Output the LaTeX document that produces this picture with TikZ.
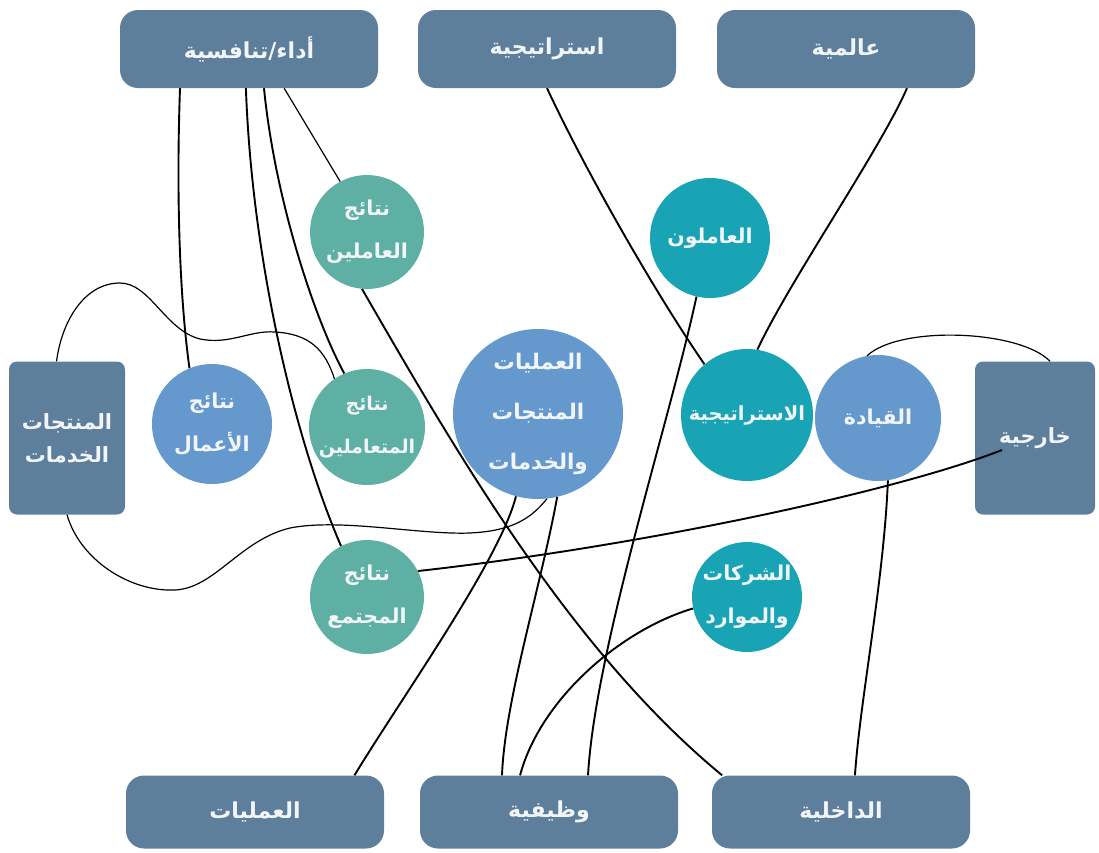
\documentclass[tikz,border=0pt]{standalone}
\usepackage{fontspec}
\newfontfamily\arabicfont[Script=Arabic]{DejaVu Sans}
\TeXXeTstate=1
\usetikzlibrary{calc}
\newcommand{\artxt}[1]{\beginR #1\endR}
\definecolor{boxc}{HTML}{5D7F9B}
\definecolor{tealc}{HTML}{5FB0A4}
\definecolor{cyanc}{HTML}{18A4B4}
\definecolor{bluec}{HTML}{6598CC}
\definecolor{txtc}{HTML}{F2F5F8}
\tikzset{
  lbl/.style={text=txtc, align=center, inner sep=0pt},
  hbox/.style={lbl, fill=boxc, rounded corners=18pt, minimum width=258pt, minimum height=78pt,
    font=\arabicfont\bfseries\fontsize{22}{26}\selectfont},
  vbox/.style={lbl, fill=boxc, rounded corners=8pt, minimum width=116pt, minimum height=153pt,
    font=\arabicfont\bfseries\fontsize{21}{33}\selectfont},
  circ/.style={lbl, circle, minimum size=#1, font=\arabicfont\bfseries\fontsize{20.5}{43}\selectfont},
  bigcirc/.style={lbl, circle, minimum size=#1, font=\arabicfont\bfseries\fontsize{21.5}{50}\selectfont},
  link/.style={draw=black, line width=1.9pt},
  thin link/.style={draw=black, line width=1.2pt},
}
\begin{document}
\begin{tikzpicture}[x=1pt,y=-1pt]
\useasboundingbox (0,0) rectangle (1099,852);
% boxes
\node[hbox] (P) at (249,49) {\artxt{أداء/تنافسية}};
\node[hbox] (S) at (547,49) {\artxt{استراتيجية}};
\node[hbox] (G) at (846,49) {\artxt{عالمية}};
\node[hbox, minimum height=73pt] (O) at (255,812) {\artxt{العمليات}};
\node[hbox, minimum height=73pt] (W) at (549,812) {\artxt{وظيفية}};
\node[hbox, minimum height=73pt] (D) at (841,812) {\artxt{الداخلية}};
\node[vbox] (L) at (67,438) {\artxt{المنتجات}\\\artxt{الخدمات}};
\node[vbox, minimum width=120pt] (R) at (1035,438) {\artxt{خارجية}};
% circles
\node[circ=114pt, fill=tealc] (cE) at (367,232) {\artxt{نتائج}\\\artxt{العاملين}};
\node[circ=120pt, fill=cyanc] (cW) at (710,238) {\artxt{العاملون}};
\node[circ=120pt, fill=bluec] (cB) at (212,424) {\artxt{نتائج}\\\artxt{الأعمال}};
\node[circ=116pt, fill=tealc, font=\arabicfont\bfseries\fontsize{19}{43}\selectfont] (cC) at (367,427) {\artxt{نتائج}\\\artxt{المتعاملين}};
\node[bigcirc=170pt, fill=bluec] (cO) at (538,414) {\artxt{العمليات}\\\artxt{المنتجات}\\\artxt{والخدمات}};
\node[circ=132pt, fill=cyanc, font=\arabicfont\bfseries\fontsize{19.5}{43}\selectfont] (cS) at (747,415) {\artxt{الاستراتيجية}};
\node[circ=126pt, fill=bluec] (cL) at (878,418) {\artxt{القيادة}};
\node[circ=114pt, fill=tealc] (cM) at (367,597) {\artxt{نتائج}\\\artxt{المجتمع}};
\node[circ=110pt, fill=cyanc] (cP) at (747,597) {\artxt{الشركات}\\\artxt{والموارد}};
% connectors from top-left box
\draw[link] ($(P.south west)!0.233!(P.south east)$) .. controls (176,200) and (180,300) .. (cB.112);
\draw[link] ($(P.south west)!0.488!(P.south east)$) .. controls (252,260) and (295,440) .. (cM.117);
\draw[link] ($(P.south west)!0.558!(P.south east)$) .. controls (275,200) and (315,320) .. (cC.113);
\draw[thin link] ($(P.south west)!0.636!(P.south east)$) -- (cE.118);
% strategy connectors
\draw[link] ($(S.south west)!0.5!(S.south east)$) .. controls (590,180) and (660,300) .. (cS.130);
\draw[link] ($(G.south west)!0.736!(G.south east)$) .. controls (880,150) and (790,280) .. (cS.81);
% employees to functional
\draw[link] (cW.257) .. controls (670,420) and (595,650) .. ($(W.north west)!0.651!(W.north east)$);
% people results to internal
\draw[link] (cE.265) .. controls (455,450) and (570,650) .. ($(D.north west)!0.04!(D.north east)$);
% processes circle
\draw[link] (cO.255) .. controls (500,560) and (400,700) .. ($(O.north west)!0.885!(O.north east)$);
\draw[link] (cO.283) .. controls (540,590) and (505,700) .. ($(W.north west)!0.318!(W.north east)$);
\draw[link] (cP.192) .. controls (620,630) and (540,700) .. ($(W.north west)!0.388!(W.north east)$);
% leadership
\draw[link] (cL.279) .. controls (884,580) and (860,700) .. ($(D.north west)!0.554!(D.north east)$);
% external
\draw[link] (cM.27) .. controls (650,545) and (900,490) .. ($(R.center)+(-33,12)$);
\draw[thin link] ($(R.north west)!0.625!(R.north east)$) .. controls (1020,330) and (900,325) .. (cL.100);
% products/services box curves
\draw[thin link] ($(L.north west)!0.41!(L.north east)$) .. controls (62,320) and (85,283) .. (120,283)
   .. controls (150,283) and (165,330) .. (200,339)
   .. controls (230,345) and (250,330) .. (275,332)
   .. controls (310,334) and (325,350) .. (cC.124);
\draw[thin link] ($(L.south west)!0.5!(L.south east)$) .. controls (80,560) and (130,592) .. (175,590)
   .. controls (215,588) and (240,540) .. (290,528)
   .. controls (340,518) and (420,535) .. (470,533)
   .. controls (510,531) and (530,520) .. (cO.276);
\end{tikzpicture}
\end{document}
